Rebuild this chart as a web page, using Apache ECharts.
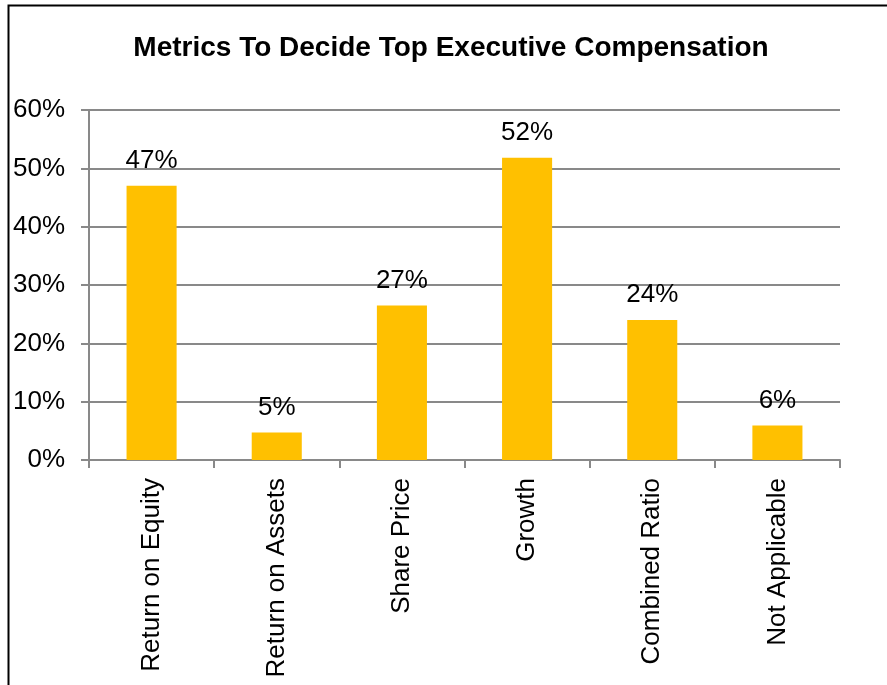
<!DOCTYPE html>
<html>
<head>
<meta charset="utf-8">
<script src="https://cdn.jsdelivr.net/npm/echarts@6/dist/echarts.min.js"></script>
<style>
html,body{margin:0;padding:0;background:#fff;}
#chart{width:887px;height:685px;}
</style>
</head>
<body>
<div id="chart"></div>
<script>
var titleText = 'Metrics To Decide Top Executive Compensation';
var categories = ['Return on Equity', 'Return on Assets', 'Share Price', 'Growth', 'Combined Ratio', 'Not Applicable'];
var values = [47, 4.7, 26.5, 51.8, 24, 5.9];
var yTicks = [0, 10, 20, 30, 40, 50, 60];

var chart = echarts.init(document.getElementById('chart'), null, {renderer: 'canvas'});
var font = "'Liberation Sans', Arial, sans-serif";
chart.setOption({
  animation: false,
  backgroundColor: '#fff',
  graphic: [{
    type: 'rect',
    shape: {x: 8.5, y: 5.5, width: 950, height: 750},
    style: {fill: 'none', stroke: '#000', lineWidth: 2}
  }],
  title: {
    text: titleText,
    left: 446, top: 29, textAlign: 'center',
    textStyle: {fontFamily: font, fontWeight: 'bold', fontSize: 28, color: '#000'}
  },
  grid: {left: 89, right: 47, top: 110, bottom: 225, containLabel: false},
  xAxis: {
    type: 'category',
    data: categories,
    axisLine: {lineStyle: {color: '#898989', width: 2}},
    axisTick: {show: true, length: 8, lineStyle: {color: '#898989', width: 2}, alignWithLabel: false},
    axisLabel: {rotate: 90, margin: 18, fontFamily: font, fontSize: 26, color: '#000', interval: 0}
  },
  yAxis: {
    type: 'value',
    min: yTicks[0], max: yTicks[yTicks.length - 1], interval: 10,
    axisLine: {show: true, lineStyle: {color: '#898989', width: 2}},
    axisTick: {show: true, length: 8, lineStyle: {color: '#898989', width: 2}},
    splitLine: {show: true, lineStyle: {color: '#898989', width: 2}},
    axisLabel: {formatter: '{value}%', margin: 24, fontFamily: font, fontSize: 26, color: '#000'}
  },
  series: [{
    type: 'bar',
    data: values,
    barWidth: '40%',
    itemStyle: {color: '#FFC000'},
    label: {
      show: true, position: 'top', distance: 12,
      fontFamily: font, fontSize: 26, color: '#000',
      formatter: function (p) { return Math.round(p.value) + '%'; }
    }
  }]
});
</script>
</body>
</html>
